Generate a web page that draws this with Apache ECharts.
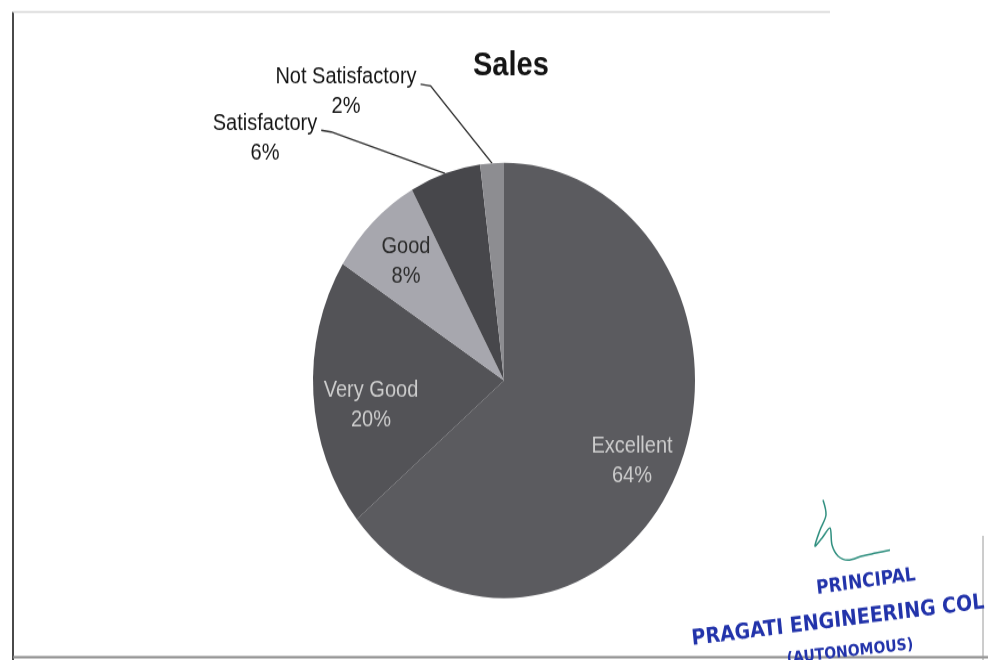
<!DOCTYPE html>
<html>
<head>
<meta charset="utf-8">
<script src="https://cdn.jsdelivr.net/npm/echarts@6/dist/echarts.min.js"></script>
<style>
  html, body { margin: 0; padding: 0; background: #ffffff; width: 988px; height: 660px; overflow: hidden; }
  #sheet { position: relative; width: 988px; height: 660px; overflow: hidden; }
  /* the printed sheet is stretched vertically, so the whole chart is drawn on a stretched canvas */
  #chart { position: absolute; left: 0; top: 0; width: 988px; height: 579px; transform: scaleY(1.14); transform-origin: 0 0; }
</style>
</head>
<body>
<div id="sheet"><div id="chart"></div></div>
<script>
// ---- data ----
const chartTitle = 'Sales';
const categories = ['Excellent', 'Very Good', 'Good', 'Satisfactory', 'Not Satisfactory'];
const shares = [64, 20, 8, 6, 2];

// ---- styling ----
const SY = 1.14;                       // vertical stretch of the sheet
const FONT = 'Liberation Sans';
const LINE_H = 26;
const sliceColors = {
  'Excellent': '#5b5b5f',
  'Very Good': '#535357',
  'Good': '#a7a7ae',
  'Satisfactory': '#47474b',
  'Not Satisfactory': '#8d8d91'
};
const labelColors = {
  'Excellent': '#cdcdcd',
  'Very Good': '#cdcdcd',
  'Good': '#2c2c2c',
  'Satisfactory': '#151515',
  'Not Satisfactory': '#151515'
};
const outsideLabels = ['Satisfactory', 'Not Satisfactory'];
// label block centres on the page (x, y in page pixels)
const labelSpots = {
  'Excellent': [632, 461],
  'Very Good': [371, 405],
  'Good': [406, 262],
  'Satisfactory': [265, 138],
  'Not Satisfactory': [346, 92]
};
const pieCenter = [504, 380.5 / SY];
const pieRadius = 191;

const chart = echarts.init(document.getElementById('chart'), null, { renderer: 'canvas' });

const total = shares.reduce((a, b) => a + b, 0);
function midPoint(i) {
  let before = 0;
  for (let k = 0; k < i; k++) before += shares[k];
  const a = ((before + shares[i] / 2) / total) * Math.PI * 2;
  return [pieCenter[0] + pieRadius * Math.sin(a), pieCenter[1] - pieRadius * Math.cos(a)];
}

const pieData = categories.map((name, i) => {
  const outside = outsideLabels.includes(name);
  return {
    name: name,
    value: shares[i],
    itemStyle: { color: sliceColors[name] },
    label: { position: outside ? 'outside' : 'inside', color: labelColors[name] },
    labelLine: { show: outside }
  };
});

const option = {
  backgroundColor: '#ffffff',
  animation: false,
  title: {
    text: chartTitle,
    left: 473,
    top: 43,
    padding: 0,
    textStyle: { fontFamily: FONT, fontWeight: 'bold', fontSize: 29, color: '#141414' }
  },
  series: [{
    type: 'pie',
    center: pieCenter,
    radius: pieRadius,
    startAngle: 90,
    clockwise: true,
    avoidLabelOverlap: false,
    silent: true,
    data: pieData,
    itemStyle: { borderWidth: 0 },
    label: {
      show: true,
      formatter: '{b}\n{d}%',
      fontFamily: FONT,
      fontSize: 20,
      lineHeight: LINE_H,
      align: 'center'
    },
    labelLine: { show: false, lineStyle: { color: '#2e2e2e', width: 1.4 } },
    labelLayout: function (p) {
      const name = categories[p.dataIndex];
      const spot = labelSpots[name];
      const cx = spot[0];
      const cy = spot[1] / SY;
      const out = { x: cx, y: cy, align: 'center', verticalAlign: 'middle' };
      if (outsideLabels.includes(name)) {
        const startX = cx + p.labelRect.width / 2 + 4;
        const startY = cy - LINE_H / 2 + 7 / SY;
        const target = (p.labelLinePoints && p.labelLinePoints[0]) || midPoint(p.dataIndex);
        out.labelLinePoints = [[startX, startY], [startX + 10, startY + 1.5], target];
      }
      return out;
    }
  }],
  graphic: [
    // sheet frame
    { type: 'line', silent: true, shape: { x1: 13, y1: 10.5, x2: 13, y2: 579 }, style: { stroke: '#4a4a4a', lineWidth: 2 } },
    { type: 'line', silent: true, shape: { x1: 13, y1: 10.5, x2: 830, y2: 10.5 }, style: { stroke: '#d6d6d6', lineWidth: 1.5 } },
    { type: 'line', silent: true, shape: { x1: 13, y1: 576.5, x2: 988, y2: 576.5 }, style: { stroke: '#8a8a8a', lineWidth: 2 } },
    { type: 'line', silent: true, shape: { x1: 983, y1: 470, x2: 983, y2: 579 }, style: { stroke: '#9a9a9a', lineWidth: 1 } },
    // signature
    {
      type: 'polyline', silent: true,
      shape: {
        points: [[823, 500 / SY], [826, 515 / SY], [820, 530 / SY], [815, 546 / SY], [822, 538 / SY],
                 [830, 528 / SY], [832, 545 / SY], [838, 556 / SY], [848, 560 / SY], [862, 556 / SY],
                 [876, 553 / SY], [890, 550 / SY]],
        smooth: 0.3
      },
      style: { stroke: '#2f8f7f', lineWidth: 1.5, fill: null }
    },
    // stamp
    {
      type: 'text', silent: true, x: 866, y: 582 / SY, rotation: 0.12,
      style: { text: 'PRINCIPAL', align: 'center', verticalAlign: 'middle', fill: '#2233aa',
               font: 'bold 17px "DejaVu Sans"' }
    },
    {
      type: 'text', silent: true, x: 838, y: 621 / SY, rotation: 0.11,
      style: { text: 'PRAGATI ENGINEERING COL', align: 'center', verticalAlign: 'middle', fill: '#2233aa',
               font: 'bold 19px "DejaVu Sans"' }
    },
    {
      type: 'text', silent: true, x: 850, y: 652 / SY, rotation: 0.1,
      style: { text: '(AUTONOMOUS)', align: 'center', verticalAlign: 'middle', fill: '#2233aa',
               font: 'bold 14px "DejaVu Sans"' }
    }
  ]
};

chart.setOption(option);
</script>
</body>
</html>
